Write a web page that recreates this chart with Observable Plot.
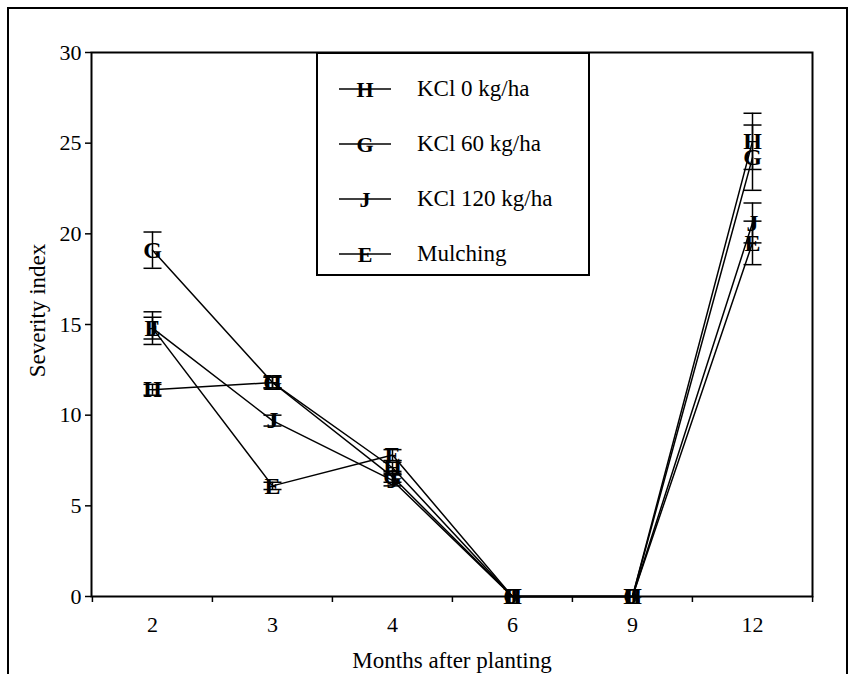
<!DOCTYPE html>
<html>
<head>
<meta charset="utf-8">
<script src="https://cdn.jsdelivr.net/npm/d3@7"></script>
<script src="https://cdn.jsdelivr.net/npm/@observablehq/plot@0.6"></script>
<style>
  html, body { margin: 0; padding: 0; background: white; }
  #wrap { position: relative; width: 854px; height: 674px; overflow: hidden; font-family: 'Liberation Serif', 'Times New Roman', serif; }
  #outer { position: absolute; left: 7px; top: 7px; width: 837px; height: 700px; border: 2.5px solid black; border-bottom: none; }
  #chart { position: absolute; left: 0; top: 0; }
  #legend { position: absolute; left: 316px; top: 52px; width: 270px; height: 220px; border: 2px solid black; background: white; }
  .row { position: absolute; left: 0; width: 270px; height: 30px; }
  .row svg { position: absolute; left: 21px; top: 0; }
  .row span { position: absolute; left: 99px; top: 0px; font-size: 23px; line-height: 30px; color: black; white-space: nowrap; }
</style>
</head>
<body>
<div id="wrap">
  <div id="outer"></div>
  <div id="chart"></div>
  <div id="legend"></div>
</div>
<script>
// ---- data ----
const months = ["2", "3", "4", "6", "9", "12"];
const seriesNames = ["KCl 0 kg/ha", "KCl 60 kg/ha", "KCl 120 kg/ha", "Mulching"];
const markers = ["H", "G", "J", "E"];
const kcl0   = [11.4, 11.8, 7.1, 0, 0, 25.1];
const kcl60  = [19.1, 11.8, 6.6, 0, 0, 24.2];
const kcl120 = [14.8, 9.7, 6.4, 0, 0, 20.6];
const mulch  = [14.8, 6.1, 7.8, 0, 0, 19.5];
const err0   = [0.3, 0.3, 0.3, 0, 0, 1.55];
const err60  = [1.0, 0.3, 0.3, 0, 0, 1.8];
const err120 = [0.9, 0.3, 0.3, 0, 0, 1.1];
const errMul = [0.6, 0.2, 0.3, 0, 0, 1.2];
const yTicks = [0, 5, 10, 15, 20, 25, 30];

const values = [kcl0, kcl60, kcl120, mulch];
const errors = [err0, err60, err120, errMul];

const rows = seriesNames.flatMap((name, s) =>
  months.map((m, i) => ({series: name, marker: markers[s], month: m, value: values[s][i], err: errors[s][i]}))
);
const withErr = rows.filter(d => d.err > 0);
const caps = withErr.flatMap(d => [{month: d.month, y: d.value - d.err}, {month: d.month, y: d.value + d.err}]);

// ---- layout ----
const W = 854, H = 674, mL = 91, mR = 42, mT = 52, mB = 78;
const step = (W - mL - mR) / months.length;
const font = "'Liberation Serif', 'Times New Roman', serif";

const capSymbol = {
  draw(ctx, size) {
    const w = Math.sqrt(size / Math.PI);
    ctx.moveTo(-w, 0);
    ctx.lineTo(w, 0);
  }
};

const chart = Plot.plot({
  width: W, height: H,
  marginLeft: mL, marginRight: mR, marginTop: mT, marginBottom: mB,
  style: {fontFamily: font, fontSize: "23px", color: "black", background: "transparent"},
  x: {type: "point", domain: months, padding: 0.5, label: null},
  y: {domain: [0, 30], label: null},
  marks: [
    Plot.axisY({ticks: yTicks, tickSize: 6, tickPadding: 4, label: null, tickFormat: d => String(d), strokeWidth: 1.5, fontSize: 22, fontFamily: font}),
    Plot.axisX({ticks: months, tickSize: 0, tickPadding: 20, label: null, fontSize: 22, fontFamily: font}),
    Plot.axisX({ticks: months, tickSize: 6, text: null, label: null, dx: -step / 2, strokeWidth: 1.5}),
    Plot.axisX({ticks: [months[months.length - 1]], tickSize: 6, text: null, label: null, dx: step / 2, strokeWidth: 1.5}),
    Plot.frame({stroke: "black", strokeWidth: 2}),
    Plot.line(rows, {x: "month", y: "value", z: "series", stroke: "black", strokeWidth: 1.5}),
    Plot.ruleX(withErr, {x: "month", y1: d => d.value - d.err, y2: d => d.value + d.err, stroke: "black", strokeWidth: 1.5}),
    Plot.dot(caps, {x: "month", y: "y", symbol: capSymbol, r: 9, stroke: "black", strokeWidth: 1.5, fill: "none"}),
    Plot.text(rows, {x: "month", y: "value", text: "marker", fontWeight: "bold", fontSize: 24, fill: "black", fontFamily: font}),
    Plot.text(["Severity index"], {frameAnchor: "left", textAnchor: "middle", lineAnchor: "middle", text: d => d, rotate: -90, dx: -54, dy: -14, fontSize: 23, fill: "black", fontFamily: font}),
    Plot.text(["Months after planting"], {frameAnchor: "bottom", lineAnchor: "middle", text: d => d, dy: 64, fontSize: 23, fill: "black", fontFamily: font})
  ]
});
document.getElementById("chart").appendChild(chart);

// ---- legend ----
const legend = document.getElementById("legend");
const rowTops = [20, 75, 130, 185];
seriesNames.forEach((name, s) => {
  const row = document.createElement("div");
  row.className = "row";
  row.style.top = rowTops[s] + "px";
  row.innerHTML =
    `<svg width="52" height="30"><line x1="0" x2="52" y1="15" y2="15" stroke="black" stroke-width="1.5"/>` +
    `<text x="26" y="15" text-anchor="middle" dominant-baseline="central" font-family="${font}" font-weight="bold" font-size="22">${markers[s]}</text></svg>` +
    `<span>${name}</span>`;
  legend.appendChild(row);
});
</script>
</body>
</html>
